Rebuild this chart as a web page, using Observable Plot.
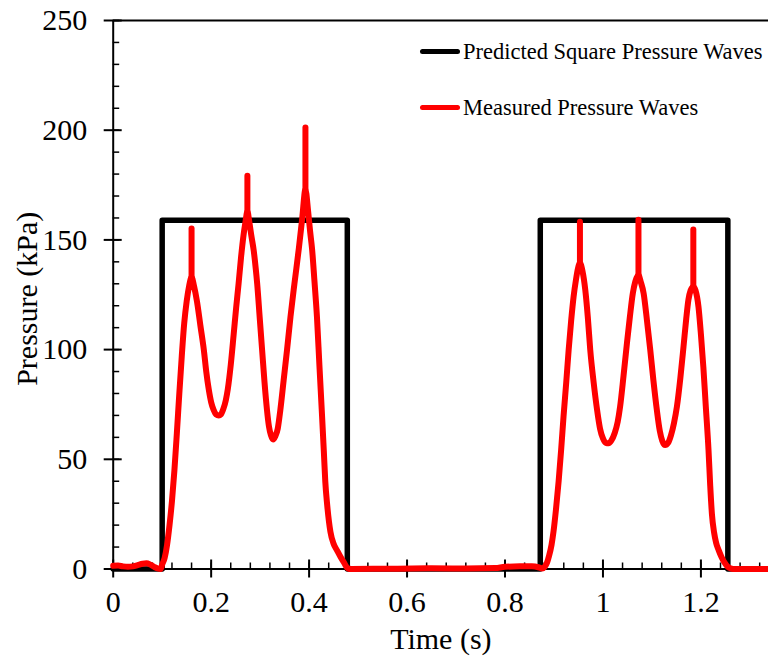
<!DOCTYPE html>
<html>
<head>
<meta charset="utf-8">
<script src="https://cdn.jsdelivr.net/npm/d3@7"></script>
<script src="https://cdn.jsdelivr.net/npm/@observablehq/plot@0.6"></script>
<style>
  html, body { margin: 0; padding: 0; background: white; }
  #wrap { position: relative; width: 768px; height: 662px; overflow: hidden; }
  #legend { position: absolute; left: 420px; top: 0; font-family: "Liberation Serif", "Times New Roman", serif; font-size: 22.5px; color: #000; }
  .row { position: absolute; left: 0; height: 26px; line-height: 26px; display: flex; align-items: center; white-space: nowrap; }
  .sw { display: inline-block; width: 40px; height: 5px; border-radius: 2.5px; margin-right: 3px; }
</style>
</head>
<body>
<div id="wrap"></div>
<script>
// ---- data ----
const seriesNames = ["Predicted Square Pressure Waves", "Measured Pressure Waves"];
const seriesColors = ["#000000", "#ff0000"];

// predicted square wave (time s, pressure kPa)
const squareTime = [0, 0.1, 0.1, 0.478, 0.478, 0.872, 0.872, 1.255, 1.255, 1.338];
const squarePressure = [0, 0, 159, 159, 0, 0, 159, 159, 0, 0];

// measured pressure (smooth part)
const measuredTime = [
  0, 0.01, 0.02, 0.03, 0.04, 0.05, 0.06, 0.068, 0.076, 0.085, 0.092, 0.097,
  0.100, 0.105, 0.110, 0.115, 0.120, 0.125, 0.130, 0.135, 0.140, 0.145, 0.150, 0.155, 0.160,
  0.165, 0.171, 0.178, 0.185, 0.190, 0.195, 0.200, 0.205, 0.210, 0.2155, 0.220, 0.225, 0.230, 0.234,
  0.240, 0.246, 0.251, 0.256, 0.261, 0.266, 0.270, 0.274,
  0.278, 0.282, 0.287, 0.291, 0.294, 0.299, 0.304, 0.309, 0.314, 0.318, 0.322, 0.3265,
  0.331, 0.336, 0.341, 0.348, 0.355, 0.362, 0.370, 0.379, 0.386, 0.3925,
  0.398, 0.402, 0.406, 0.411, 0.416, 0.421, 0.4265, 0.430, 0.433, 0.437, 0.4435,
  0.450, 0.457, 0.464, 0.471, 0.479, 0.486,
  0.55, 0.65, 0.72, 0.78, 0.80, 0.83, 0.855, 0.868, 0.876,
  0.881, 0.886, 0.890, 0.895, 0.899, 0.904, 0.9095, 0.9145, 0.9195, 0.925, 0.930, 0.935, 0.940, 0.945, 0.949, 0.953,
  0.958, 0.964, 0.969, 0.974, 0.981, 0.988, 0.994, 1.000, 1.006, 1.0115, 1.017, 1.024, 1.030, 1.035,
  1.042, 1.049, 1.055, 1.061, 1.066, 1.0725,
  1.077, 1.083, 1.090, 1.0965, 1.103, 1.110, 1.116, 1.121, 1.127, 1.133, 1.139, 1.145, 1.151,
  1.158, 1.1645, 1.170, 1.1745, 1.179, 1.1845,
  1.189, 1.195, 1.200, 1.205, 1.210, 1.2155, 1.219, 1.2225, 1.227, 1.231, 1.236, 1.242, 1.248, 1.254, 1.260, 1.266, 1.338
];
const measuredPressure = [
  1.5, 1.6, 1.2, 1.0, 1.2, 1.8, 2.4, 2.6, 2.0, 0.8, 0.15, 0,
  2, 5, 11, 20, 31, 45, 62, 80, 97, 112, 122, 129, 133,
  129, 122, 111, 100, 90, 82, 76, 72.5, 70.5, 70, 70.5, 73, 77, 82,
  93, 107, 119, 130, 142, 152, 158, 163,
  158, 152, 145, 137, 130, 115, 100, 85, 72.5, 65, 61, 59,
  60.5, 64, 72, 86, 100, 115, 130, 146, 160, 173,
  163, 154, 146, 131, 115, 93, 69.5, 54, 40, 29, 17,
  11.5, 8.5, 5.6, 3, 0.3, 0,
  0.1, 0.3, 0.2, 0.4, 1.0, 1.2, 1.2, 0.8, 0.2,
  1, 3, 6, 11, 17, 27, 40, 54, 69.5, 85, 100, 113, 124, 132, 137, 139.5,
  136, 127, 115, 100, 85, 72.5, 64, 59.5, 57.5, 57.3, 58.5, 62, 67, 74,
  88, 103, 115, 125.7, 131, 134,
  131, 125.7, 113, 100, 86, 72.5, 63, 58.5, 56.5, 57.5, 61, 66.5, 74,
  87, 101.4, 114, 122.7, 127, 128.7,
  127, 119.6, 107, 92, 74, 54.3, 38, 25, 16.5, 12, 8.7, 5.5, 3, 1.2, 0.3, 0, 0
];

// measured spikes
const spikeTime = [0.160, 0.274, 0.3925, 0.953, 1.0725, 1.1845];
const spikeBase = [133, 163, 173, 139.5, 134, 128.7];
const spikeTop = [155, 179, 201, 158, 159, 154.5];

// axes
const xTicks = [0, 0.2, 0.4, 0.6, 0.8, 1, 1.2];
const yTicks = [0, 50, 100, 150, 200, 250];
const xMinorTicks = d3.range(0, 34).map(i => +(i * 0.04).toFixed(2));
const yMinorTicks = d3.range(0, 26).map(i => i * 10);
const xTitle = "Time (s)";
const yTitle = "Pressure (kPa)";

// ---- tables ----
const square = squareTime.map((t, i) => ({t, p: squarePressure[i]}));
const measured = measuredTime.map((t, i) => ({t, p: measuredPressure[i]}));
const spikes = spikeTime.map((t, i) => ({t, base: spikeBase[i], top: spikeTop[i]}));

const chart = Plot.plot({
  width: 768,
  height: 662,
  marginLeft: 112.7,
  marginRight: 0,
  marginTop: 20,
  marginBottom: 93.5,
  style: {fontFamily: "'Liberation Serif', 'Times New Roman', serif", fontSize: "30px", color: "#000", background: "white", overflow: "visible"},
  x: {domain: [0, 1.338], label: null},
  y: {domain: [0, 250], label: null},
  marks: [
    // minor ticks (inside)
    Plot.axisX(xMinorTicks, {tickSize: 6, dy: -6, text: null, strokeWidth: 1.5, label: null}),
    Plot.axisY(yMinorTicks, {tickSize: 6.5, dx: 6.5, text: null, strokeWidth: 1.5, label: null}),
    // major ticks (crossing)
    Plot.axisX(xTicks, {tickSize: 18, dy: -9, text: null, strokeWidth: 2, label: null}),
    Plot.axisY(yTicks, {tickSize: 18, dx: 9, text: null, strokeWidth: 2, label: null}),
    // tick labels
    Plot.axisX(xTicks, {tickSize: 0, tickPadding: 22, tickFormat: d3.format("~g"), fontSize: 30, label: null}),
    Plot.axisY(yTicks, {tickSize: 0, tickPadding: 26, tickFormat: d3.format("~g"), fontSize: 30, label: null}),
    // frame lines
    Plot.ruleX([0], {strokeWidth: 2}),
    Plot.ruleY([0], {strokeWidth: 2}),
    Plot.ruleY([250], {strokeWidth: 2}),
    // axis titles
    Plot.text([xTitle], {text: d => d, frameAnchor: "bottom", dy: 80, fontSize: 30}),
    Plot.text([yTitle], {text: d => d, frameAnchor: "left", textAnchor: "middle", lineAnchor: "middle", rotate: -90, dx: -86, dy: 4, fontSize: 30}),
    // data
    Plot.line(square, {x: "t", y: "p", stroke: seriesColors[0], strokeWidth: 5.5, strokeLinejoin: "round", strokeLinecap: "round"}),
    Plot.line(measured, {x: "t", y: "p", stroke: seriesColors[1], strokeWidth: 6, curve: "monotone-x", strokeLinejoin: "round", strokeLinecap: "round"}),
    Plot.ruleX(spikes, {x: "t", y1: "base", y2: "top", stroke: seriesColors[1], strokeWidth: 6, strokeLinecap: "round"})
  ]
});

const wrap = document.getElementById("wrap");
wrap.appendChild(chart);

// in-plot legend (HTML overlay)
const legend = document.createElement("div");
legend.id = "legend";
const rowCenters = [51.7, 107.5];
seriesNames.forEach((name, i) => {
  const row = document.createElement("div");
  row.className = "row";
  row.style.top = (rowCenters[i] - 13) + "px";
  const sw = document.createElement("span");
  sw.className = "sw";
  sw.style.background = seriesColors[i];
  const tx = document.createElement("span");
  tx.textContent = name;
  row.appendChild(sw);
  row.appendChild(tx);
  legend.appendChild(row);
});
wrap.appendChild(legend);
</script>
</body>
</html>
